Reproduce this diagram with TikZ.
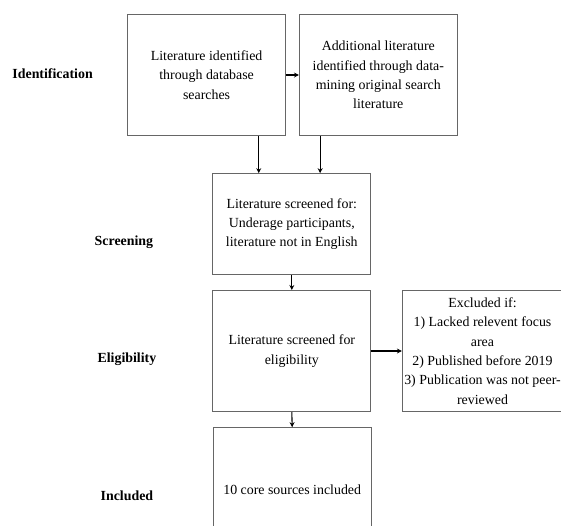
\documentclass[tikz,border=0pt]{standalone}
\usepackage{fontspec}
\setmainfont{Liberation Serif}
\usetikzlibrary{arrows.meta}
\usetikzlibrary{positioning}
\usetikzlibrary{calc}

\begin{document}
\begin{tikzpicture}[x=1pt,y=-1pt,
	box/.style={draw=black!60, line width=0.7pt, align=center, inner sep=2pt, minimum width=158pt, font=\fontsize{13.9}{19.3}\selectfont},
	stage/.style={font=\fontsize{13.9}{16}\selectfont\bfseries},
	arr/.style={-{Stealth[length=5pt,width=5pt]}, line width=1.1pt}]
	% fix the size of the page
	\useasboundingbox (0,0) rectangle (561,525);
	% draw stage labels
	\node[stage] (ident) at (52.6,73.3) {Identification};
	\node[stage] (screen) at (123.9,241.9) {Screening};
	\node[stage] (elig) at (126.9,359.4) {Eligibility};
	\node[stage] (incl) at (126.9,495.4) {Included};
	% draw boxes
	\node[box, minimum height=121.3pt] (search) at (206.6,75) {Literature identified\\through database\\searches};
	\node[box, minimum height=121.3pt] (extra) at (378.3,75) {Additional literature\\identified through data-\\mining original search\\literature};
	\node[box, minimum height=101.2pt] (screened) at (291.8,224.1) {Literature screened for:\\Underage participants,\\literature not in English};
	\node[box, minimum height=121.3pt] (eligible) at (291.8,351) {Literature screened for\\eligibility};
	\node[box, minimum height=121.3pt, minimum width=155pt] (excluded) at (482.5,351) {Excluded if:\\1) Lacked relevent focus\\area\\2) Published before 2019\\3) Publication was not peer-\\reviewed};
	\node[box, minimum height=125pt] (core) at (292.2,490) {10 core sources included};
	% add arrows
	\draw[arr] (search.east) -- (extra.west);
	\draw[arr] ([xshift=-27.2pt]search.south east) -- ([xshift=-27.2pt]search.south east |- screened.north);
	\draw[arr] ([xshift=21.2pt]extra.south west) -- ([xshift=21.2pt]extra.south west |- screened.north);
	\draw[arr] (screened.south) -- (eligible.north);
	\draw[arr] (eligible.east) -- (excluded.west);
	\draw[arr] (eligible.south) -- (core.north);
\end{tikzpicture}
\end{document}
